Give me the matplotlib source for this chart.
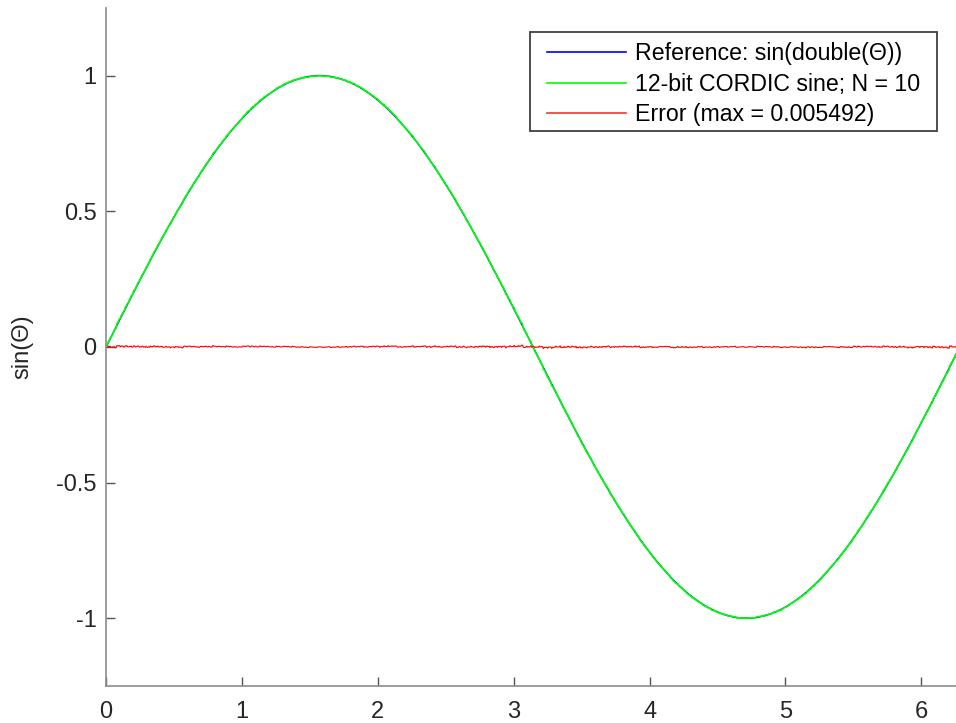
import numpy as np
import matplotlib
matplotlib.use('Agg')
import matplotlib.pyplot as plt
from matplotlib.patches import Rectangle

###########################################################################################
# data: 12-bit fixed point CORDIC sine, 10 iterations, compared against double sin

wordLength = 12
fracLength = 10
nIter = 10
nPoints = 1024

theta = np.linspace(0, 2 * np.pi, nPoints)
refSin = np.sin(theta)

def cordicSin12(angles, niters=nIter, fl=fracLength):
    """fixed point cordic rotation kernel, integer math with truncating shifts"""
    scale = 2 ** fl
    out = np.zeros(len(angles))
    atanTable = np.round(np.arctan(2.0 ** -np.arange(niters)) * scale).astype(int)
    gain = np.prod(1.0 / np.sqrt(1 + 2.0 ** (-2 * np.arange(niters))))
    for k, a in enumerate(angles):
        # fold angle into [-pi/2, pi/2]
        a = (a + np.pi) % (2 * np.pi) - np.pi
        if a > np.pi / 2:
            a = np.pi - a
        elif a < -np.pi / 2:
            a = -np.pi - a
        x = int(np.round(gain * scale))
        y = 0
        z = int(np.round(a * scale))
        for i in range(niters):
            if z < 0:
                x, y, z = x + (y >> i), y - (x >> i), z + atanTable[i]
            else:
                x, y, z = x - (y >> i), y + (x >> i), z - atanTable[i]
        out[k] = y / scale
    return out

cordicSin = cordicSin12(theta)
errSin = cordicSin - refSin

labels = ['Reference: sin(double(\u0398))',
          '12-bit CORDIC sine; N = 10',
          'Error (max = 0.005492)']

xTicks = [0, 1, 2, 3, 4, 5, 6]
yTicks = [-1, -0.5, 0, 0.5, 1]
yTickLabels = ['-1', '-0.5', '0', '0.5', '1']

###########################################################################################
# plotting stuff

plt.rcParams['font.family'] = ['Liberation Sans', 'DejaVu Sans']

W, H = 956, 723
fig = plt.figure(figsize=(W / 100, H / 100), dpi=100)
ax = fig.add_axes([0.111, 0.0512, 0.893, 0.938])

ax.plot(theta, refSin, color=(0, 0, 1), linewidth=1.0, label=labels[0])
ax.plot(theta, cordicSin, color=(0, 1, 0), linewidth=1.25, label=labels[1])
ax.plot(theta, errSin, color=(1, 0, 0), linewidth=0.8, label=labels[2])

ax.set_xlim(0, 2 * np.pi)
ax.set_ylim(-1.25, 1.25)
ax.set_xticks(xTicks)
ax.set_xticklabels([str(t) for t in xTicks])
ax.set_yticks(yTicks)
ax.set_yticklabels(yTickLabels)

for side in ['top', 'right']:
    ax.spines[side].set_visible(False)
for side in ['left', 'bottom']:
    ax.spines[side].set_color('#8c8c8c')
    ax.spines[side].set_linewidth(1.2)

ax.tick_params(direction='in', length=6.5, width=1.0, color='#555555',
               labelsize=17, labelcolor='#262626')
ax.tick_params(axis='y', pad=7)
ax.tick_params(axis='x', pad=11)

ax.set_ylabel('sin(\u0398)', fontsize=17, color='#262626', labelpad=16)

# legend without frame, box drawn separately (matlab style padding)
box = Rectangle((530 / W, 1 - 131 / H), 407 / W, 99 / H,
                transform=fig.transFigure, facecolor='white',
                edgecolor='#404040', linewidth=1.3, zorder=4, clip_on=False)
ax.add_patch(box)

leg = ax.legend(loc='upper left', bbox_to_anchor=(547 / W, 1 - 42 / H),
                bbox_transform=fig.transFigure, fontsize=16.7, frameon=False,
                handlelength=3.4, handletextpad=0.4, borderpad=0,
                labelspacing=0.33, borderaxespad=0)
for h in leg.get_lines():
    h.set_linewidth(1.2)
leg.get_lines()[2].set_color('#ff3030')
leg.set_zorder(5)

fig.savefig('out.png', dpi=100)
